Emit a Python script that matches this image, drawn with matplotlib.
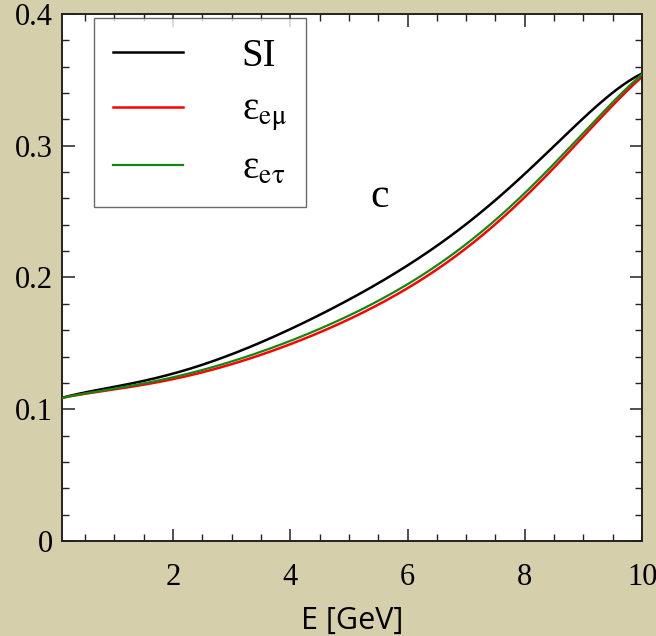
import numpy as np
import matplotlib
matplotlib.use("Agg")
import matplotlib.pyplot as plt

# energy grid [GeV] and the three curves
E = [0.1, 1.0, 2.0, 3.0, 4.0, 5.0, 6.0, 7.0, 8.0, 8.5, 9.0, 9.5, 10.0]
si = [0.1086, 0.117, 0.127, 0.142, 0.160, 0.184, 0.209, 0.240, 0.279, 0.300, 0.321, 0.340, 0.355]
e_emu = [0.1086, 0.115, 0.123, 0.134, 0.1496, 0.168, 0.192, 0.222, 0.262, 0.283, 0.306, 0.332, 0.352]
e_etau = [0.1086, 0.1155, 0.1245, 0.136, 0.152, 0.171, 0.195, 0.225, 0.265, 0.286, 0.309, 0.334, 0.354]
labels = ["SI", "ε$_{\\mathrm{eμ}}$", "ε$_{\\mathrm{eτ}}$"]

plt.rcParams['font.family'] = ['Liberation Serif', 'DejaVu Serif']
plt.rcParams['mathtext.fontset'] = 'stix'

bg = '#d6cfac'
fig = plt.figure(figsize=(6.56, 6.36), dpi=100, facecolor=bg)
ax = fig.add_axes([0.0938, 0.1494, 0.885, 0.8286])
ax.set_facecolor('white')

# smooth the sampled curves for drawing
xs = np.linspace(E[0], E[-1], 300)
def smooth(y):
    c = np.polyfit(E, y, 6)
    return np.polyval(c, xs)

ax.plot(xs, smooth(si), color='black', lw=1.8, label=labels[0])
ax.plot(xs, smooth(e_emu), color='#ff0000', lw=1.8, label=labels[1], zorder=2)
ax.plot(xs, smooth(e_etau), color='#118811', lw=1.6, label=labels[2], zorder=3)

ax.set_xlim(0.1, 10)
ax.set_ylim(0, 0.4)
ax.set_xticks([2, 4, 6, 8, 10])
ax.set_xticks(np.arange(0.5, 10, 0.5), minor=True)
ax.set_yticks([0, 0.1, 0.2, 0.3, 0.4])
ax.set_yticks(np.arange(0, 0.4, 0.02), minor=True)
ax.set_yticklabels(['0', '0.1', '0.2', '0.3', '0.4'])
ax.tick_params(which='both', direction='in', top=True, right=True, labelsize=22, color='#222222')
ax.tick_params(which='major', length=9, width=1.1)
ax.tick_params(which='minor', length=5, width=1.0)
ax.tick_params(axis='x', pad=16)
ax.tick_params(axis='y', pad=6)
for s in ax.spines.values():
    s.set_linewidth(1.4)
    s.set_color('#222222')

ax.set_xlabel('E [GeV]', family='Open Sans', fontsize=22, labelpad=10)
ax.text(5.53, 0.261, 'c', fontsize=30, ha='center', va='center')

leg = ax.legend(loc='upper left', bbox_to_anchor=(0.056, 0.992), borderaxespad=0,
                fontsize=28, frameon=True, fancybox=False, edgecolor='#444444',
                handlelength=1.8, handletextpad=1.5, labelspacing=0.45, borderpad=0.5)
leg.get_frame().set_linewidth(1.0)

fig.savefig('out.png', dpi=100, facecolor=bg)
